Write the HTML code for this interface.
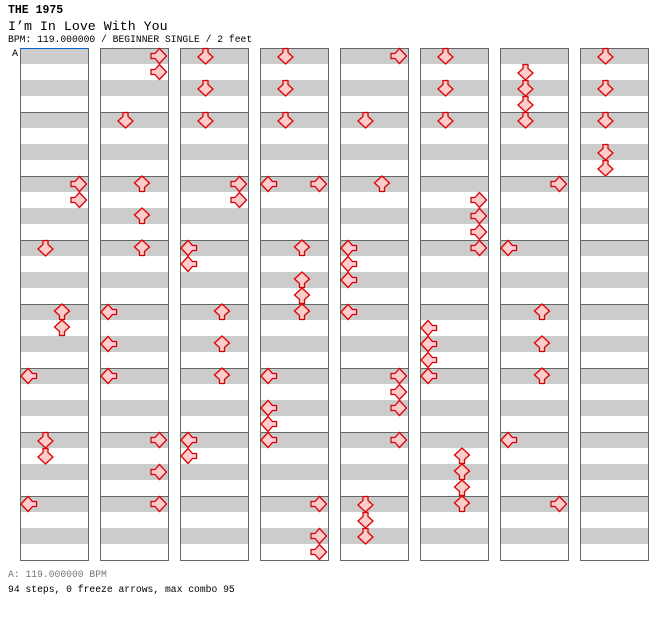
<!DOCTYPE html>
<html><head><meta charset="utf-8">
<style>
body{margin:0;background:#fff;width:672px;height:620px;overflow:hidden;font-family:"Liberation Mono",monospace;}
.t{position:absolute;left:8px;white-space:pre;color:#000;line-height:1;}
</style></head>
<body>
<div class="t" style="top:5px;font-size:11.5px;font-weight:bold;">THE 1975</div>
<div class="t" style="top:20px;font-size:13.3px;">I’m In Love With You</div>
<div class="t" style="top:35px;font-size:9.7px;">BPM: 119.000000 / BEGINNER SINGLE / 2 feet</div>
<div class="t" style="top:570px;font-size:9.7px;color:#777;">A: 119.000000 BPM</div>
<div class="t" style="top:585px;font-size:9.7px;">94 steps, 0 freeze arrows, max combo 95</div>
<svg id="chart" width="672" height="620" style="position:absolute;left:0;top:0"></svg>
<script>
// lanes: 0=left,1=down,2=up,3=right ; positions in 8th-note units from start of column (0..63)
const col1Lanes=[3,3,1,2,2,0,1,1,0];
const col1Pos=[16,18,24,32,34,40,48,50,56];
const col2Lanes=[3,3,1,2,2,2,0,0,0,3,3,3];
const col2Pos=[0,2,8,16,20,24,32,36,40,48,52,56];
const col3Lanes=[1,1,1,3,3,0,0,2,2,2,0,0];
const col3Pos=[0,4,8,16,18,24,26,32,36,40,48,50];
const col4Lanes=[1,1,1,0,3,2,2,2,2,0,0,0,0,3,3,3];
const col4Pos=[0,4,8,16,16,24,28,30,32,40,44,46,48,56,60,62];
const col5Lanes=[3,1,2,0,0,0,0,3,3,3,3,1,1,1];
const col5Pos=[0,8,16,24,26,28,32,40,42,44,48,56,58,60];
const col6Lanes=[1,1,1,3,3,3,3,0,0,0,0,2,2,2,2];
const col6Pos=[0,4,8,18,20,22,24,34,36,38,40,50,52,54,56];
const col7Lanes=[1,1,1,1,3,0,2,2,2,0,3];
const col7Pos=[2,4,6,8,16,24,32,36,40,48,56];
const col8Lanes=[1,1,1,1,1];
const col8Pos=[0,4,8,12,14];
const colLanes=[col1Lanes,col2Lanes,col3Lanes,col4Lanes,col5Lanes,col6Lanes,col7Lanes,col8Lanes];
const colPos=[col1Pos,col2Pos,col3Pos,col4Pos,col5Pos,col6Pos,col7Pos,col8Pos];

const NS="http://www.w3.org/2000/svg";
const svg=document.getElementById('chart');
const X0=20,COLW=80,W=68,Y0=48,MEAS=64,NMEAS=8,UNIT=8;
function colX(c){return X0+c*COLW;}
function laneX(c,l){return colX(c)+9+l*16.5;}
function posY(p){return Y0+8+p*UNIT;}
function mk(t,a){const e=document.createElementNS(NS,t);for(const k in a)e.setAttribute(k,a[k]);return e;}
const rot=[90,0,180,-90];
for(let c=0;c<8;c++){
  const g=mk('g',{});
  
  
  for(let m=0;m<NMEAS;m++){
    const y=Y0+m*MEAS;
    g.appendChild(mk('rect',{x:colX(c),y:y,width:W,height:16,fill:'#cccccc'}));
    g.appendChild(mk('rect',{x:colX(c),y:y+32,width:W,height:16,fill:'#cccccc'}));
    if(m>0)g.appendChild(mk('line',{x1:colX(c),x2:colX(c)+W,y1:y+0.5,y2:y+0.5,stroke:'#666','stroke-width':1}));
  }
  g.appendChild(mk('rect',{x:colX(c)+0.5,y:Y0+0.5,width:W,height:NMEAS*MEAS,fill:'none',stroke:'#666','stroke-width':1}));
  svg.appendChild(g);
}
const bl=mk('line',{x1:20,x2:88,y1:48.5,y2:48.5,stroke:'#0066cc','stroke-width':1});


svg.appendChild(bl);
const at=mk('text',{x:12,y:56,'font-size':10,'font-family':'Liberation Mono, monospace',fill:'#000'});
at.textContent='A';


svg.appendChild(at);
const shape="5.5,0.5 10.5,0.5 10.5,4.5 15.5,9 8,16 0.5,9 5.5,4.5";
for(let c=0;c<8;c++){
  const L=colLanes[c],P=colPos[c];
  for(let i=0;i<L.length;i++){
    const cx=laneX(c,L[i]),cy=posY(P[i]);
    const a=mk('polygon',{points:shape,fill:'#ffcccc',stroke:'#dd0000','stroke-width':1.3,
      transform:`translate(${cx},${cy}) rotate(${rot[L[i]]}) translate(-8,-8)`});
    
    
    svg.appendChild(a);
  }
}
</script>
</body></html>
